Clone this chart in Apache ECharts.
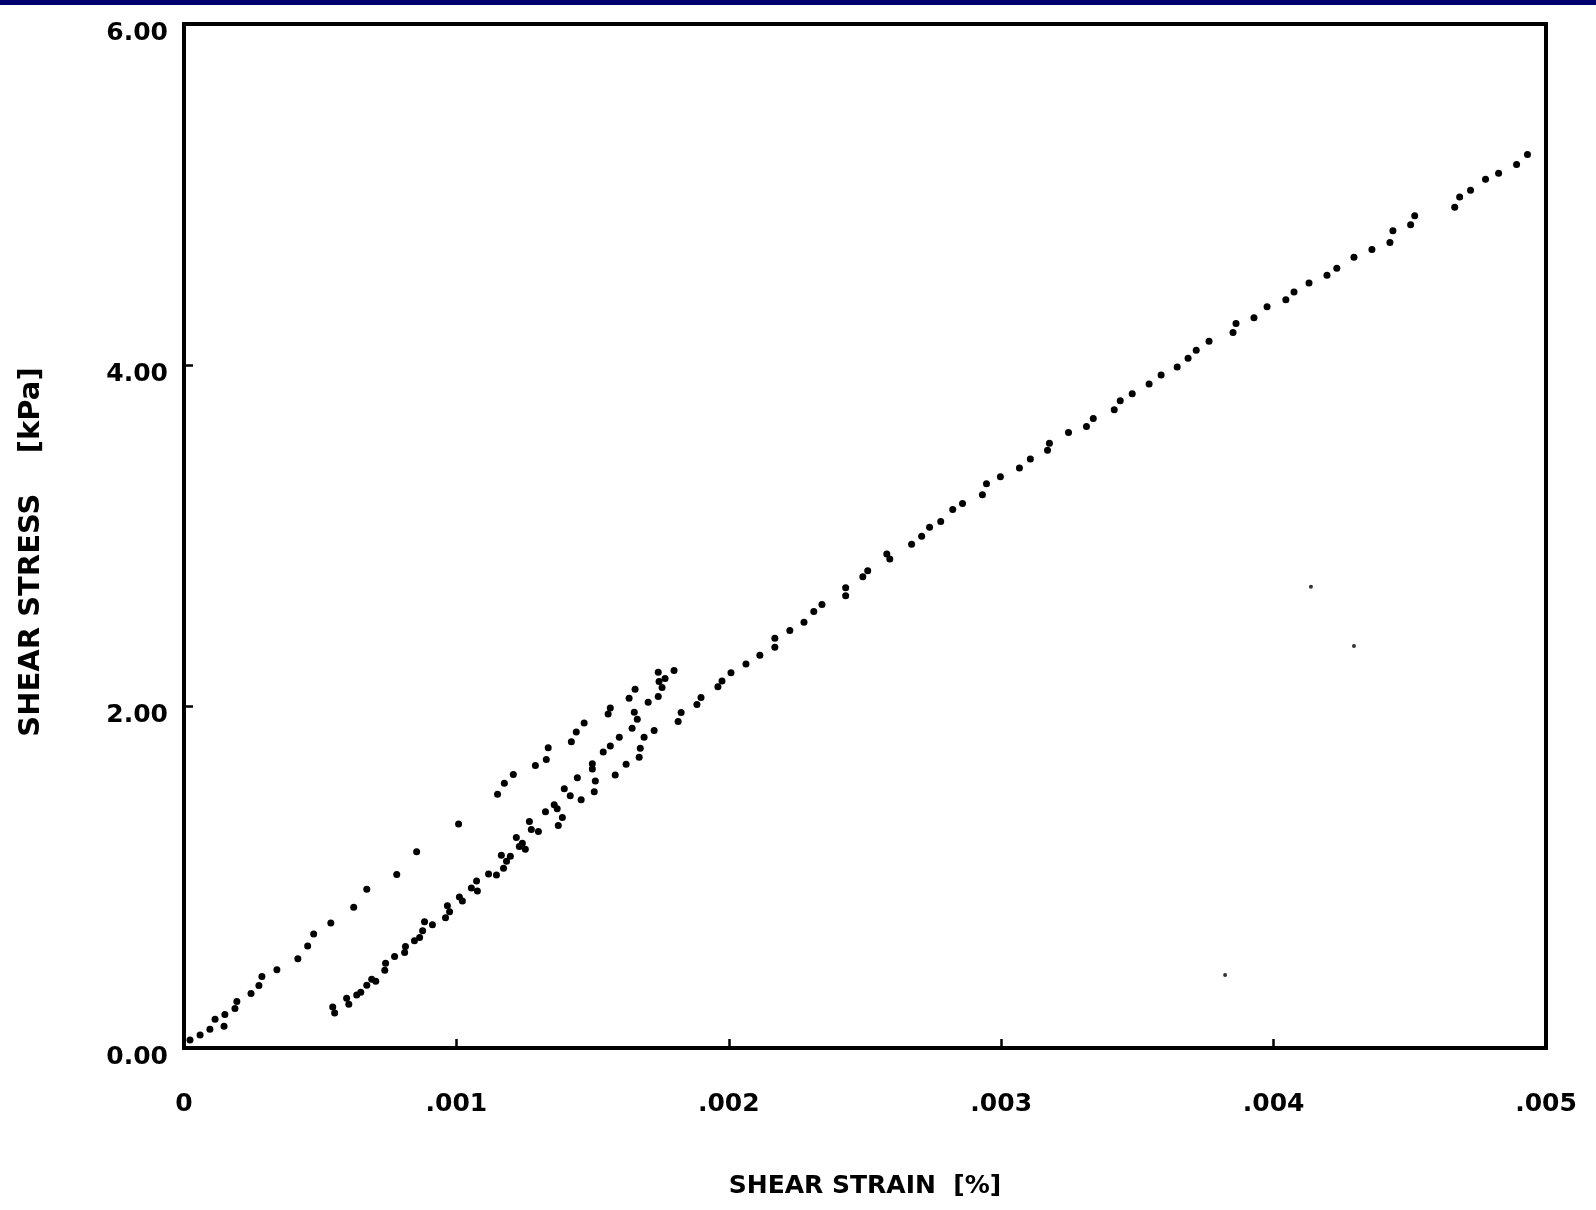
<!DOCTYPE html>
<html>
<head>
<meta charset="utf-8">
<script src="https://cdn.jsdelivr.net/npm/echarts@6/dist/echarts.min.js"></script>
<style>
html,body{margin:0;padding:0;background:#fff;}
#chart{width:1596px;height:1210px;}
</style>
</head>
<body>
<div id="chart"></div>
<script>
// Strain values are in units of 0.001 %, stress in kPa
var xTickLabels = ['0', '.001', '.002', '.003', '.004', '.005'];
var yTickLabels = ['0.00', '2.00', '4.00', '6.00'];
var xTitle = 'SHEAR STRAIN  [%]';
var yTitle = 'SHEAR STRESS    [kPa]';

// initial loading branch
var strainBranch1 = [0.022,0.059,0.095,0.114,0.147,0.150,0.187,0.194,0.246,0.275,0.286,0.341,0.418,0.454,0.476,0.539,0.623,0.671,0.781,0.854,1.008,1.151,1.176,1.209,1.290,1.330,1.337,1.422,1.440,1.469,1.557,1.565,1.634,1.656,1.741,1.744,1.766,1.755,1.799];
var stressBranch1 = [0.047,0.076,0.110,0.169,0.127,0.197,0.232,0.273,0.319,0.366,0.419,0.459,0.523,0.598,0.668,0.732,0.825,0.930,1.016,1.150,1.313,1.487,1.551,1.603,1.655,1.690,1.760,1.794,1.852,1.905,1.957,1.992,2.050,2.102,2.201,2.148,2.165,2.112,2.212];

// reloading branches
var strainBranch2 = [0.546,0.553,0.597,0.605,0.634,0.649,0.671,0.689,0.704,0.737,0.740,0.773,0.810,0.813,0.846,0.865,0.876,0.883,0.912,0.960,0.967,0.975,1.011,1.022,1.055,1.077,1.074,1.118,1.147,1.165,1.173,1.184,1.198,1.220,1.231,1.242,1.253,1.268,1.275,1.301,1.327,1.359,1.370,1.389,1.374,1.396,1.418,1.444,1.458,1.499,1.499,1.510,1.506,1.539,1.565,1.583,1.598,1.623,1.645,1.664,1.653,1.671,1.675,1.689,1.704,1.726,1.741,1.814,1.825];
var stressBranch2 = [0.240,0.205,0.292,0.257,0.310,0.327,0.368,0.403,0.391,0.455,0.496,0.536,0.559,0.594,0.629,0.647,0.687,0.740,0.722,0.763,0.833,0.798,0.885,0.862,0.937,0.920,0.978,1.019,1.013,1.129,1.053,1.094,1.123,1.234,1.181,1.199,1.164,1.327,1.281,1.269,1.385,1.426,1.402,1.350,1.303,1.519,1.478,1.583,1.454,1.665,1.635,1.565,1.501,1.734,1.769,1.599,1.821,1.663,1.874,1.926,1.967,1.704,1.756,1.821,2.026,1.861,2.060,1.913,1.966];

// continued loading branch
var strainBranch3 = [1.883,1.898,1.960,1.975,2.008,2.063,2.114,2.169,2.169,2.224,2.276,2.312,2.342,2.429,2.429,2.492,2.510,2.580,2.591,2.671,2.708,2.737,2.778,2.822,2.858,2.931,2.946,2.997,3.067,3.107,3.170,3.177,3.247,3.313,3.338,3.415,3.437,3.481,3.543,3.587,3.646,3.686,3.716,3.763,3.851,3.862,3.928,3.976,4.045,4.075,4.130,4.196,4.232,4.295,4.361,4.427,4.438,4.503,4.518,4.665,4.683,4.723,4.778,4.826,4.892,4.932];
var stressBranch3 = [2.012,2.053,2.116,2.151,2.198,2.250,2.302,2.401,2.348,2.447,2.494,2.558,2.598,2.697,2.650,2.761,2.796,2.894,2.865,2.952,2.998,3.051,3.085,3.155,3.190,3.242,3.306,3.347,3.399,3.451,3.503,3.544,3.607,3.642,3.688,3.740,3.793,3.833,3.891,3.943,3.990,4.042,4.088,4.141,4.192,4.245,4.279,4.343,4.384,4.430,4.482,4.528,4.569,4.633,4.679,4.719,4.789,4.824,4.876,4.927,4.986,5.026,5.090,5.125,5.177,5.235];

// isolated specks
var strainSpecks = [4.137, 4.295, 3.822];
var stressSpecks = [2.702, 2.355, 0.428];

function pairs(xs, ys) {
  var out = [];
  for (var i = 0; i < xs.length; i++) out.push([xs[i], ys[i]]);
  return out;
}

var FONT = 'DejaVu Sans';
var chart = echarts.init(document.getElementById('chart'), null, {renderer: 'canvas'});
var dotSeries = function (name, xs, ys, size, color) {
  return {
    name: name, type: 'scatter', data: pairs(xs, ys),
    symbol: 'circle', symbolSize: size,
    itemStyle: {color: color, opacity: 1}, silent: true, animation: false
  };
};

chart.setOption({
  backgroundColor: '#ffffff',
  animation: false,
  graphic: [{
    type: 'rect', left: 0, top: 0,
    shape: {width: 1596, height: 5},
    style: {fill: '#00006e'}
  }, {
    type: 'text', x: 31, y: 552, rotation: Math.PI / 2,
    style: {
      text: yTitle, fill: '#000',
      font: 'bold 29px "DejaVu Sans"',
      textAlign: 'center', textVerticalAlign: 'middle'
    }
  }],
  grid: {
    left: 184, right: 50, top: 24, bottom: 162,
    show: true, borderColor: '#000', borderWidth: 4, backgroundColor: 'transparent'
  },
  xAxis: {
    type: 'value', min: 0, max: 5, interval: 1,
    name: xTitle, nameLocation: 'middle', nameGap: 126,
    nameTextStyle: {fontFamily: FONT, fontSize: 25, fontWeight: 'bold', color: '#000'},
    axisLine: {show: false},
    axisTick: {show: true, inside: true, length: 9, lineStyle: {color: '#000', width: 2.5}},
    splitLine: {show: false},
    axisLabel: {
      margin: 44, fontFamily: FONT, fontSize: 25, fontWeight: 'bold', color: '#000',
      formatter: function (v) { return xTickLabels[Math.round(v)]; }
    }
  },
  yAxis: {
    type: 'value', min: 0, max: 6, interval: 2,
    axisLine: {show: false},
    axisTick: {show: true, inside: true, length: 9, lineStyle: {color: '#000', width: 2.5}},
    splitLine: {show: false},
    axisLabel: {
      margin: 16, fontFamily: FONT, fontSize: 25, fontWeight: 'bold', color: '#000',
      verticalAlign: 'top', lineHeight: 18,
      formatter: function (v) { return yTickLabels[Math.round(v / 2)]; }
    }
  },
  series: [
    dotSeries('Loading 1', strainBranch1, stressBranch1, 7, '#000'),
    dotSeries('Reloading', strainBranch2, stressBranch2, 7, '#000'),
    dotSeries('Loading 2', strainBranch3, stressBranch3, 7, '#000'),
    dotSeries('Specks', strainSpecks, stressSpecks, 4, '#333')
  ]
});
</script>
</body>
</html>
